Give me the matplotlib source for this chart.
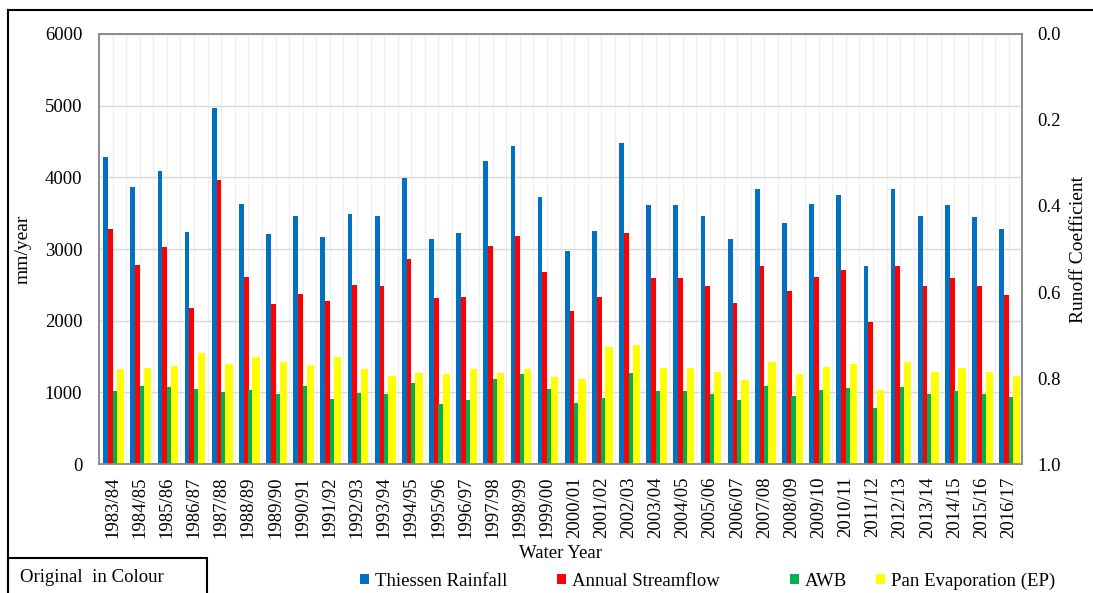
import numpy as np
import matplotlib.pyplot as plt
from matplotlib.lines import Line2D
from matplotlib.patches import Rectangle
from matplotlib.ticker import FormatStrFormatter

# Данные (мм/год)
years = ["1983/84", "1984/85", "1985/86", "1986/87", "1987/88", "1988/89",
         "1989/90", "1990/91", "1991/92", "1992/93", "1993/94", "1994/95",
         "1995/96", "1996/97", "1997/98", "1998/99", "1999/00", "2000/01",
         "2001/02", "2002/03", "2003/04", "2004/05", "2005/06", "2006/07",
         "2007/08", "2008/09", "2009/10", "2010/11", "2011/12", "2012/13",
         "2013/14", "2014/15", "2015/16", "2016/17"]

rainfall = [4288, 3864, 4092, 3231, 4967, 3631, 3207, 3454, 3166, 3487,
            3454, 3994, 3142, 3222, 4222, 4437, 3724, 2975, 3254, 4478,
            3617, 3608, 3454, 3133, 3841, 3361, 3631, 3757, 2756, 3841,
            3454, 3617, 3445, 3282]

streamflow = [3277, 2775, 3026, 2183, 3962, 2607, 2234, 2369, 2272, 2504,
              2486, 2863, 2314, 2328, 3035, 3184, 2682, 2132, 2337, 3222,
              2598, 2598, 2486, 2248, 2765, 2412, 2607, 2705, 1979, 2765,
              2486, 2598, 2477, 2356]

awb = [1020, 1089, 1071, 1047, 1005, 1033, 978, 1089, 903, 987,
       978, 1127, 838, 894, 1192, 1257, 1052, 847, 926, 1266,
       1024, 1024, 978, 894, 1094, 954, 1033, 1066, 787, 1080,
       978, 1024, 978, 936]

pan_evap = [1322, 1341, 1369, 1555, 1397, 1490, 1420, 1383, 1490, 1322,
            1234, 1266, 1257, 1322, 1266, 1322, 1210, 1187, 1634, 1667,
            1341, 1341, 1290, 1173, 1429, 1257, 1350, 1397, 1033, 1429,
            1290, 1341, 1290, 1224]

labels = ["Thiessen Rainfall", "Annual Streamflow", "AWB", "Pan Evaporation (EP)"]
colors = ["#0070C0", "#FF0000", "#00B050", "#FFFF00"]

plt.rcParams['font.family'] = ['Liberation Serif', 'DejaVu Serif']

fig = plt.figure(figsize=(10.93, 5.93), dpi=100)
ax = fig.add_axes([0.0906, 0.2175, 0.8447, 0.7252])

x = np.arange(len(years))
offsets = [-0.345, -0.17, 0.0, 0.15]
widths = [0.175, 0.175, 0.15, 0.27]

bars = []
for vals, c, off, w, lab in zip([rainfall, streamflow, awb, pan_evap],
                                colors, offsets, widths, labels):
    b = ax.bar(x + off, vals, width=w, align='edge', color=c, label=lab, zorder=3)
    bars.append(b)

ax.set_xlim(-0.5, len(years) - 0.5)
ax.set_ylim(0, 6000)
ax.set_yticks(range(0, 7000, 1000))
ax.set_xticks(x)
ax.set_xticklabels(years, rotation=90, fontsize=13.5)
ax.set_xticks(np.arange(0.5, len(years) - 0.5, 1), minor=True)
ax.tick_params(axis='both', which='both', length=0)
ax.tick_params(axis='y', labelsize=13.5, pad=12)
ax.tick_params(axis='x', pad=9)

ax.yaxis.grid(True, color='#d9d9d9', lw=1)
ax.xaxis.grid(True, which='both', color='#f0f0f0', lw=1)
ax.set_axisbelow(True)

for s in ax.spines.values():
    s.set_color('#8c8c8c')
    s.set_linewidth(1.2)

ax.set_ylabel("mm/year", fontsize=14)
ax.yaxis.set_label_coords(-0.073, 0.5)
ax.set_xlabel("Water Year", fontsize=13.5)
ax.xaxis.set_label_coords(0.5, -0.188)

# Правая ось - коэффициент стока (перевернутая)
ax2 = ax.twinx()
ax2.set_ylim(1.0, 0.0)
ax2.set_yticks([0.0, 0.2, 0.4, 0.6, 0.8, 1.0])
ax2.yaxis.set_major_formatter(FormatStrFormatter('%.1f'))
ax2.tick_params(axis='y', length=0, labelsize=13.5, pad=11)
for s in ax2.spines.values():
    s.set_color('#8c8c8c')
    s.set_linewidth(1.2)
ax2.set_ylabel("Runoff Coefficient", fontsize=14)
ax2.yaxis.set_label_coords(1.052, 0.5)

# Легенда
leg_x = [0.3294, 0.5096, 0.7228, 0.8015]
for b, lab, lx in zip(bars, labels, leg_x):
    fig.legend([b], [lab], loc='center left', bbox_to_anchor=(lx, 1 - 581 / 593),
               frameon=False, fontsize=13.5, handlelength=0.5, handleheight=0.5,
               handletextpad=0.3, borderpad=0, borderaxespad=0)

# Рамка и подпись
W, H = 1093, 593
fig.add_artist(Line2D([8 / W, 1], [1 - 9.5 / H, 1 - 9.5 / H], color='black', lw=1.5,
                      transform=fig.transFigure))
fig.add_artist(Line2D([8 / W, 8 / W], [0, 1 - 9.5 / H], color='black', lw=1.5,
                      transform=fig.transFigure))
fig.add_artist(Rectangle((8 / W, -0.01), 199 / W, 0.01 + 35 / H, fill=False,
                         edgecolor='black', lw=1.5, transform=fig.transFigure))
fig.text(20 / W, 1 - 577 / H, "Original  in Colour", fontsize=13.5, va='center')

fig.savefig("out.png", dpi=100)
